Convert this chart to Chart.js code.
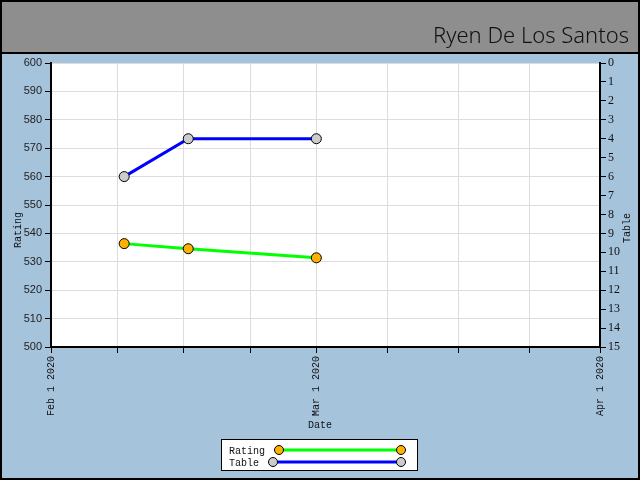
<!DOCTYPE html>
<html>
<head>
<meta charset="utf-8">
<script src="https://cdn.jsdelivr.net/npm/chart.js@4"></script>
<style>
    html, body { margin: 0; padding: 0; background: #fff; }
    #wrap { position: relative; width: 640px; height: 480px; }
    canvas { display: block; }
</style>
</head>
<body>
<div id="wrap"><canvas id="chart" width="640" height="480"></canvas></div>
<script>
// Data
var dates = ['2020-02-09', '2020-02-16', '2020-03-01'];
var rating = [536.4, 534.6, 531.4];
var table = [6, 4, 4];
var dateTicks = ['2020-02-01', '2020-03-01', '2020-04-01'];
var titleText = 'Ryen De Los Santos';

var DAY = 86400000;
var origin = Date.parse(dateTicks[0] + 'T00:00:00Z');
function toDay(s) { return (Date.parse(s + 'T00:00:00Z') - origin) / DAY; }
function dayLabel(d) {
    var dt = new Date(origin + d * DAY);
    var m = ['Jan', 'Feb', 'Mar', 'Apr', 'May', 'Jun', 'Jul', 'Aug', 'Sep', 'Oct', 'Nov', 'Dec'];
    return m[dt.getUTCMonth()] + ' ' + dt.getUTCDate() + ' ' + dt.getUTCFullYear();
}

// month boundaries plus three evenly spaced minor ticks inside each month
var monthDays = dateTicks.map(toDay);
var tickDays = [];
for (var i = 0; i < monthDays.length - 1; i++) {
    var step = (monthDays[i + 1] - monthDays[i]) / 4;
    for (var k = 0; k < 4; k++) tickDays.push(monthDays[i] + k * step);
}
tickDays.push(monthDays[monthDays.length - 1]);

var ratingPts = dates.map(function(d, i) { return { x: toDay(d), y: rating[i] }; });
var tablePts = dates.map(function(d, i) { return { x: toDay(d), y: table[i] }; });

var serif = '"Liberation Serif", "DejaVu Serif", serif';
var mono = '"Liberation Mono", "DejaVu Sans Mono", monospace';
var sans = '"Liberation Sans", Arial, sans-serif';

var frame = {
    id: 'frame',
    beforeDraw: function(chart) {
        var c = chart.ctx;
        c.save();
        c.fillStyle = '#a6c3dc';
        c.fillRect(0, 0, 640, 480);
        c.fillStyle = '#8e8e8e';
        c.fillRect(0, 0, 640, 53);
        c.fillStyle = '#000';
        c.fillRect(0, 52, 640, 2);
        var a = chart.chartArea;
        c.fillStyle = '#fff';
        c.fillRect(a.left, a.top, a.right - a.left, a.bottom - a.top);
        c.restore();
    },
    afterDraw: function(chart) {
        var c = chart.ctx;
        c.save();
        // title
        c.fillStyle = '#111';
        c.font = '300 22px "Noto Sans", sans-serif';
        c.textAlign = 'right';
        c.textBaseline = 'alphabetic';
        c.fillText(titleText, 629, 43);

        // axis titles
        c.font = '10px ' + mono;
        c.textAlign = 'center';
        c.textBaseline = 'middle';
        c.fillText('Date', 320, 425);
        c.save();
        c.translate(18, 230);
        c.rotate(-Math.PI / 2);
        c.fillText('Rating', 0, 0);
        c.restore();
        c.save();
        c.translate(627, 228);
        c.rotate(-Math.PI / 2);
        c.fillText('Table', 0, 0);
        c.restore();

        // legend
        c.fillStyle = '#fff';
        c.fillRect(221.5, 439.5, 196, 31);
        c.strokeStyle = '#000';
        c.lineWidth = 1;
        c.strokeRect(221.5, 439.5, 196, 31);
        var rows = [
            { ds: chart.data.datasets[0], y: 450, x0: 279 },
            { ds: chart.data.datasets[1], y: 462, x0: 273 }
        ];
        rows.forEach(function(r) {
            c.fillStyle = '#111';
            c.textAlign = 'left';
            c.fillText(r.ds.label, 229, r.y + 1);
            c.strokeStyle = r.ds.borderColor;
            c.lineWidth = 3;
            c.beginPath();
            c.moveTo(r.x0, r.y);
            c.lineTo(401, r.y);
            c.stroke();
            [r.x0, 401].forEach(function(x) {
                c.beginPath();
                c.arc(x, r.y, 4.5, 0, Math.PI * 2);
                c.fillStyle = r.ds.pointBackgroundColor;
                c.fill();
                c.lineWidth = 1;
                c.strokeStyle = '#000';
                c.stroke();
            });
        });

        // outer border
        c.strokeStyle = '#000';
        c.lineWidth = 2;
        c.strokeRect(1, 1, 638, 478);
        c.restore();
    }
};

new Chart(document.getElementById('chart'), {
    type: 'line',
    data: {
        datasets: [{
            label: 'Rating',
            data: ratingPts,
            yAxisID: 'y',
            borderColor: '#00ff00',
            borderWidth: 3,
            pointBackgroundColor: '#ffb000',
            pointBorderColor: '#000',
            pointBorderWidth: 1,
            pointRadius: 5,
            tension: 0,
            order: 2
        }, {
            label: 'Table',
            data: tablePts,
            yAxisID: 'y1',
            borderColor: '#0000ff',
            borderWidth: 3,
            pointBackgroundColor: '#cccccc',
            pointBorderColor: '#000',
            pointBorderWidth: 1,
            pointRadius: 5,
            tension: 0,
            order: 1
        }]
    },
    options: {
        responsive: false,
        animation: false,
        layout: { padding: { top: 63, bottom: 45, left: 0, right: 0 } },
        plugins: {
            legend: { display: false },
            tooltip: { enabled: false }
        },
        scales: {
            x: {
                type: 'linear',
                min: monthDays[0],
                max: monthDays[monthDays.length - 1],
                afterBuildTicks: function(axis) {
                    axis.ticks = tickDays.map(function(v) { return { value: v }; });
                },
                afterFit: function(axis) { axis.height = 88; },
                grid: { color: '#dddddd', tickLength: 6, tickColor: '#000' },
                border: { color: '#000', width: 2 },
                ticks: {
                    autoSkip: false,
                    minRotation: 90,
                    maxRotation: 90,
                    color: '#111',
                    font: { family: mono, size: 10 },
                    padding: 3,
                    callback: function(v) {
                        return monthDays.indexOf(v) !== -1 ? dayLabel(v) : '';
                    }
                }
            },
            y: {
                position: 'left',
                min: 500,
                max: 600,
                afterFit: function(axis) { axis.width = 51; },
                grid: { color: '#dddddd', tickLength: 6, tickColor: '#000' },
                border: { color: '#000', width: 2 },
                ticks: {
                    stepSize: 10,
                    color: '#222',
                    font: { family: sans, size: 11 },
                    padding: 3
                }
            },
            y1: {
                position: 'right',
                min: 0,
                max: 15,
                reverse: true,
                afterFit: function(axis) { axis.width = 40; },
                grid: { drawOnChartArea: false, tickLength: 6, tickColor: '#000' },
                border: { color: '#000', width: 2 },
                ticks: {
                    stepSize: 1,
                    color: '#111',
                    font: { family: serif, size: 12 },
                    padding: 2
                }
            }
        }
    },
    plugins: [frame]
});
</script>
</body>
</html>
